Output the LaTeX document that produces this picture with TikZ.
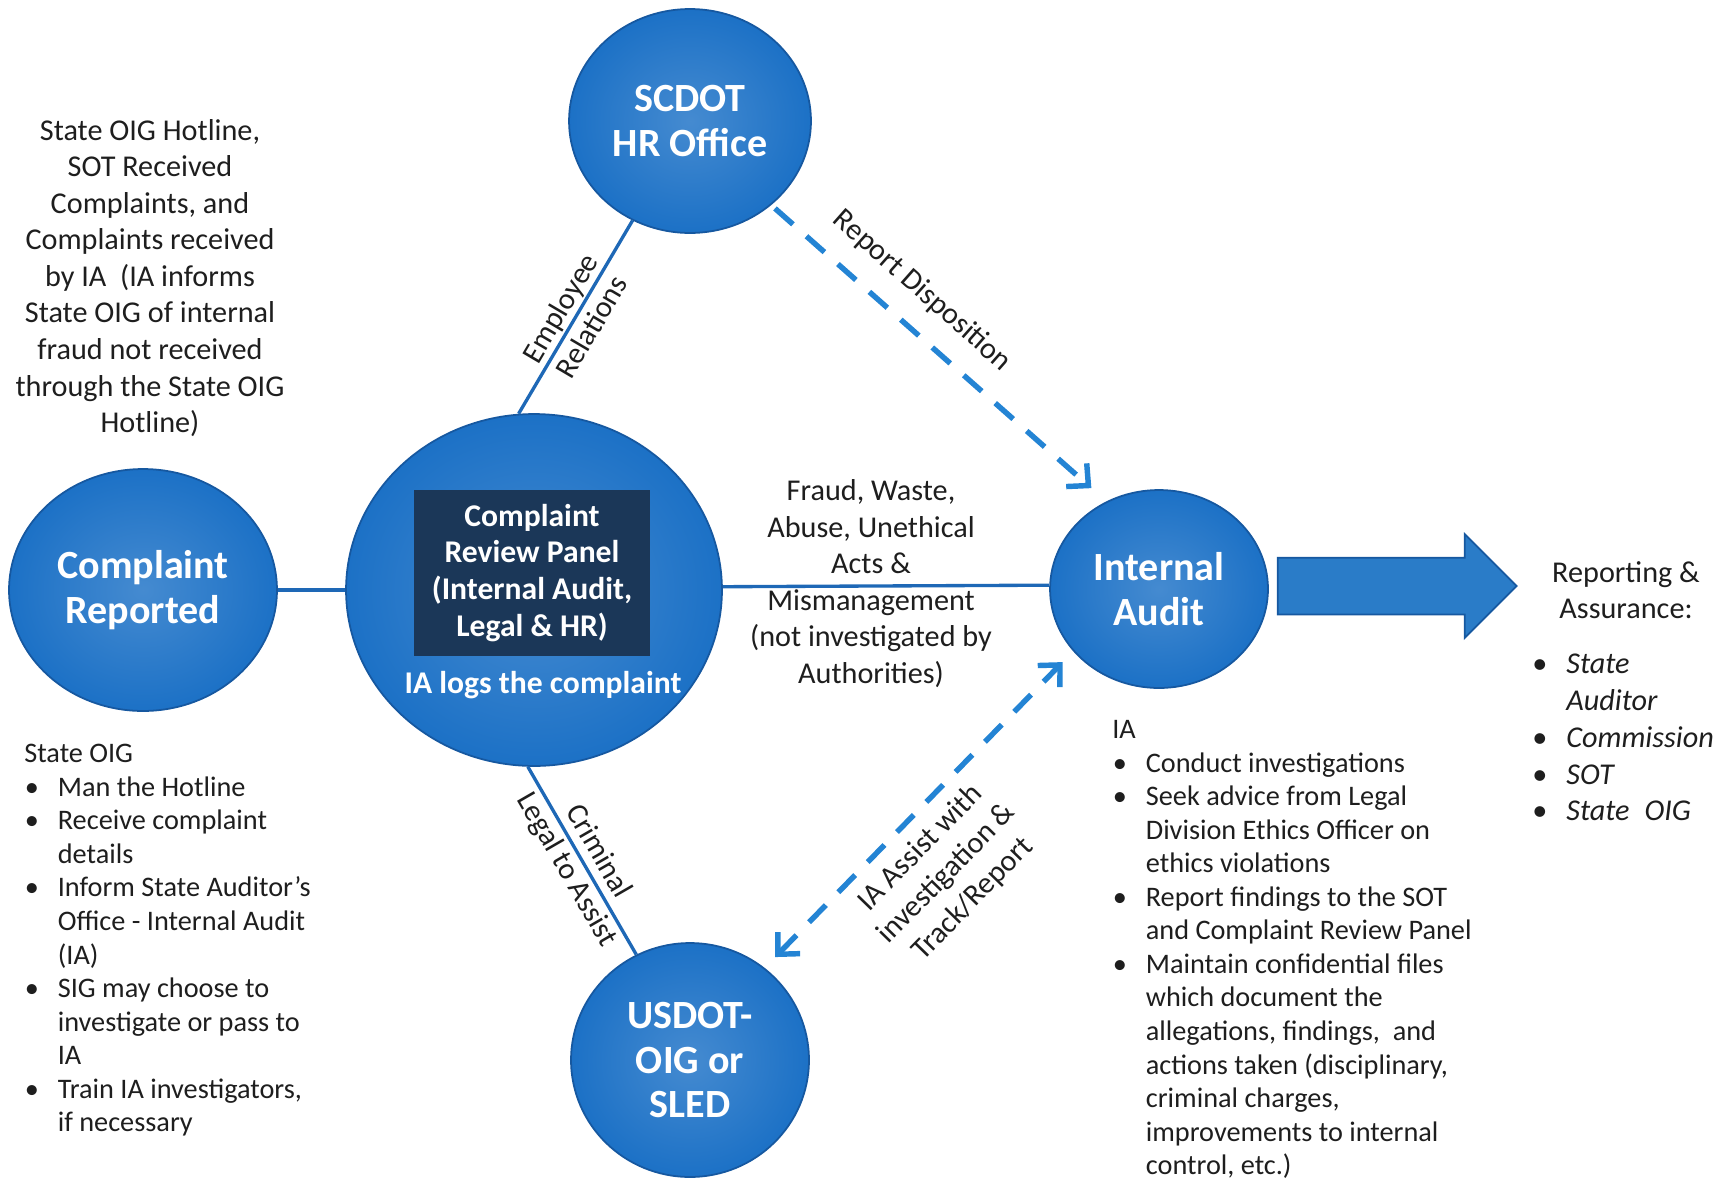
\documentclass[tikz,border=0pt]{standalone}
\usepackage{fontspec}
\setmainfont{Carlito}
\usetikzlibrary{shapes.geometric, shapes.arrows, arrows.meta, positioning}
\definecolor{bubbleblue}{RGB}{28,113,198}
\definecolor{bubbleedge}{RGB}{22,88,160}
\definecolor{panelnavy}{RGB}{27,55,88}
\definecolor{linkblue}{RGB}{30,104,182}
\definecolor{dashblue}{RGB}{36,132,212}
\definecolor{arrowblue}{RGB}{42,124,200}
\definecolor{textgray}{RGB}{30,30,30}

\newcommand{\itm}{\makebox[0.67cm][l]{\hspace*{0.01cm}\textbullet}}
\newcommand{\cnt}{\hspace*{0.67cm}}
\newcommand{\ritm}{\makebox[0.56cm][l]{\hspace*{-0.12cm}\upshape\textbullet}}

\begin{document}
\begin{tikzpicture}[
    x=0.02cm, y=-0.02cm,
    bubble/.style={ellipse, draw=bubbleedge, line width=1pt, inner color=bubbleblue!82!white, outer color=bubbleblue, text=white, align=center, inner sep=0pt, font=\bfseries\fontsize{22.8}{25.5}\selectfont},
    panelbox/.style={rectangle, fill=panelnavy, text=white, align=center, minimum width=4.72cm, minimum height=3.34cm, font=\bfseries\fontsize{18}{21}\selectfont},
    link/.style={draw=linkblue, line width=1.9pt},
    dashlink/.style={draw=dashblue, line width=3.1pt, dash pattern=on 0.48cm off 0.36cm},
    barb/.tip={Straight Barb[length=0.32cm, width=0.62cm]},
    note/.style={text=textgray, align=center, inner sep=0pt, font=\fontsize{17.2}{20.8}\selectfont},
    listnote/.style={text=textgray, align=left, inner sep=0pt, anchor=north west, font=\fontsize{16.1}{19.1}\selectfont}
]
    \useasboundingbox (0,0) rectangle (1726,1180);

    % circles
    \node[bubble, minimum width=5.36cm, minimum height=4.84cm] (reported) at (143,590) {Complaint\\Reported};
    \node[bubble, minimum width=7.52cm, minimum height=7.04cm] (panel) at (534,590) {};
    \node[panelbox] (review) at (532,573) {Complaint\\Review Panel\\(Internal Audit,\\Legal \& HR)};
    \node[text=white, inner sep=0pt, font=\bfseries\fontsize{18}{22}\selectfont] (logs) at (543,685) {IA logs the complaint};
    \node[bubble, minimum width=4.84cm, minimum height=4.48cm] (hroffice) at (690,121) {SCDOT\\HR Office};
    \node[bubble, minimum width=4.36cm, minimum height=3.96cm] (audit) at (1159,589) {Internal\\Audit};
    \node[bubble, minimum width=4.76cm, minimum height=4.68cm] (usdot) at (690,1060) {USDOT-\\OIG or\\SLED};

    % connectors
    \draw[link] (reported) -- (panel);
    \draw[link] (panel.1.5) -- node[midway, xshift=-0.3cm, yshift=0.05cm, note] {Fraud, Waste,\\Abuse, Unethical\\Acts \&\\Mismanagement\\(not investigated by\\Authorities)} (audit.178);
    \draw[link] (panel.95) -- node[sloped, note] {Employee\\Relations} (hroffice.240);
    \draw[link] (panel.268) -- node[sloped, note] {Criminal\\Legal to Assist} (usdot.117);
    \draw[dashlink, -{barb}, shorten >=0.4cm, shorten <=0.1cm] (hroffice.314) -- node[sloped, pos=0.38, above=0.4cm, note] {Report Disposition} (audit.121);
    \draw[dashlink, {barb}-{barb}, shorten >=0.3cm, shorten <=0.3cm] (usdot.51) -- node[sloped, pos=0.44, below=0.25cm, note] {IA Assist with\\investigation \&\\Track/Report} (audit.216);

    % reporting arrow
    \node[single arrow, fill=arrowblue, draw=bubbleedge, line width=1pt, minimum height=4.78cm, minimum width=2.04cm, single arrow head extend=0.47cm, inner ysep=0.55cm, inner xsep=0pt] (reparrow) at (1383,586) {};

    % side texts
    \node[note] (sources) at (150,278) {State OIG Hotline,\\SOT Received\\Complaints, and\\Complaints received\\by IA~ (IA informs\\State OIG of internal\\fraud not received\\through the State OIG\\Hotline)};
    \node[listnote] (oigduties) at (24,744) {State OIG\\
        \itm Man the Hotline\\
        \itm Receive complaint\\
        \cnt details\\
        \itm Inform State Auditor's\\
        \cnt Office - Internal Audit\\
        \cnt (IA)\\
        \itm SIG may choose to\\
        \cnt investigate or pass to\\
        \cnt IA\\
        \itm Train IA investigators,\\
        \cnt if necessary};
    \node[listnote] (iaduties) at (1112,720) {IA\\
        \itm Conduct investigations\\
        \itm Seek advice from Legal\\
        \cnt Division Ethics Officer on\\
        \cnt ethics violations\\
        \itm Report findings to the SOT\\
        \cnt and Complaint Review Panel\\
        \itm Maintain confidential files\\
        \cnt which document the\\
        \cnt allegations, findings,~ and\\
        \cnt actions taken (disciplinary,\\
        \cnt criminal charges,\\
        \cnt improvements to internal\\
        \cnt control, etc.)};
    \node[note] (repheading) at (1626,590) {Reporting \&\\Assurance:};
    \node[listnote, font=\itshape\fontsize{17.2}{20.9}\selectfont] (replist) at (1538,654) {\ritm State\\
        \hspace*{0.56cm}Auditor\\
        \ritm Commission\\
        \ritm SOT\\
        \ritm State\enspace OIG};
\end{tikzpicture}
\end{document}
